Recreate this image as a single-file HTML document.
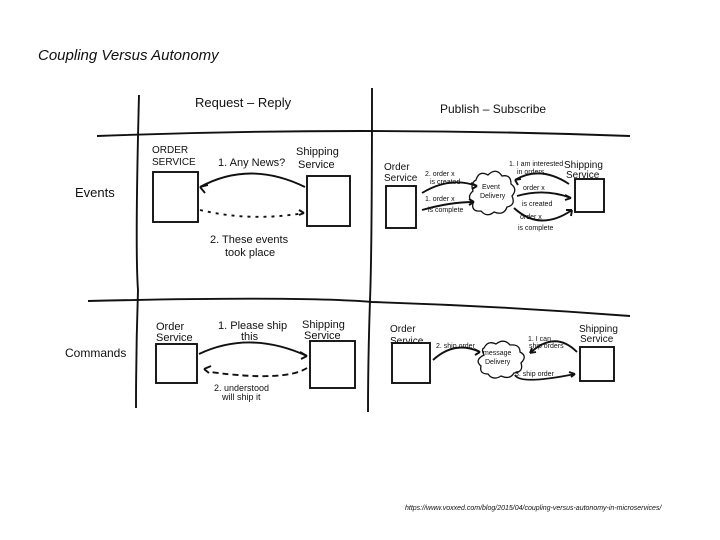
<!DOCTYPE html>
<html><head><meta charset="utf-8"><style>
html,body{margin:0;padding:0;background:#fff}
svg{display:block}
.h{font-family:"Liberation Sans",sans-serif;fill:#111}
</style></head><body>
<svg width="720" height="540" viewBox="0 0 720 540" xmlns="http://www.w3.org/2000/svg">
<text x="38" y="60" font-family="Liberation Sans,sans-serif" font-style="italic" font-size="15" fill="#111">Coupling Versus Autonomy</text>
<g stroke="#111" stroke-width="1.9" fill="none">
<path d="M97 136 Q360 126 630 136"/>
<path d="M88 301 Q300 296 372 302 Q500 306 630 316"/>
<path d="M139 95 Q135 250 138 290 Q136 350 136 408"/>
<path d="M372 88 Q372 250 370 300 Q368 360 368 412"/>
<rect x="153" y="172" width="45" height="50"/>
<rect x="307" y="176" width="43" height="50"/>
<path d="M305 187 Q250 160 200 187"/><path d="M200 187 l8 -2 M200 187 l5 6"/>
<path d="M200 210 Q250 222 304 213" stroke-dasharray="3 5"/><path d="M304 213 l-5 -3 M304 213 l-5 2"/>
<rect x="156" y="344" width="41" height="39"/>
<rect x="310" y="341" width="45" height="47"/>
<path d="M199 354 Q250 330 307 356"/><path d="M307 356 l-7 -4 M307 356 l-6 3"/>
<path d="M307 368 Q285 382 210 372" stroke-dasharray="6 4"/><path d="M204 369 l7 -3 M204 369 l5 4"/>
<rect x="386" y="186" width="30" height="42"/>
<rect x="575" y="179" width="29" height="33"/>
<path d="M422 193 Q450 176 477 186"/><path d="M477 186 l-6 -3 M477 186 l-5 3"/>
<path d="M422 210 Q450 202 474 202"/><path d="M474 202 l-5 -3 M474 202 l-5 3"/>
<path d="M569 184 Q540 165 515 180"/><path d="M515 180 l6 -1 M515 180 l3 5"/>
<path d="M517 196 Q545 188 571 198"/><path d="M571 198 l-6 -3 M571 198 l-6 2"/>
<path d="M514 208 Q540 232 572 210"/><path d="M572 210 l-6 0 M572 210 l-1 6"/>
<path d="M476 180 q3 -10 12 -5 q8 -8 14 1 q9 -2 9 8 q7 5 1 12 q4 9 -5 11 q-3 9 -13 5 q-7 6 -13 -1 q-10 1 -8 -8 q-7 -6 0 -12 q-3 -8 3 -11z" stroke-width="1.3"/>
<rect x="392" y="343" width="38" height="40"/>
<rect x="580" y="347" width="34" height="34"/>
<path d="M433 360 Q455 340 480 352"/><path d="M480 352 l-6 -3 M480 352 l-5 3"/>
<path d="M577 352 Q555 330 530 353"/><path d="M530 353 l6 -1 M530 353 l2 -5"/>
<path d="M515 375 Q520 385 575 374"/><path d="M575 374 l-6 -2 M575 374 l-4 3"/>
<path d="M484 348 q4 -8 12 -4 q8 -6 14 1 q10 -1 10 7 q8 4 1 11 q3 9 -7 10 q-4 7 -13 3 q-8 5 -13 -2 q-9 0 -7 -8 q-7 -6 3 -11 q-3 -6 0 -7z" stroke-width="1.3"/>
</g>
<g class="h" font-size="11">
<text x="195" y="107" font-size="13">Request – Reply</text>
<text x="440" y="113" font-size="12">Publish – Subscribe</text>
<text x="75" y="197" font-size="13">Events</text>
<text x="65" y="357" font-size="12">Commands</text>
<text x="152" y="153" font-size="10">ORDER</text>
<text x="152" y="165" font-size="10">SERVICE</text>
<text x="296" y="155">Shipping</text>
<text x="298" y="168">Service</text>
<text x="218" y="166">1. Any News?</text>
<text x="210" y="243">2. These events</text>
<text x="225" y="256">took place</text>
<text x="156" y="330">Order</text>
<text x="156" y="341">Service</text>
<text x="218" y="329">1. Please ship</text>
<text x="241" y="340">this</text>
<text x="302" y="328">Shipping</text>
<text x="304" y="339">Service</text>
<text x="214" y="391" font-size="9">2. understood</text>
<text x="222" y="400" font-size="9">will ship it</text>
<g font-size="10">
<text x="384" y="170">Order</text><text x="384" y="181">Service</text>
<text x="564" y="168">Shipping</text><text x="566" y="178">Service</text>
<text x="390" y="332">Order</text><text x="390" y="344">Service</text>
<text x="579" y="332">Shipping</text><text x="580" y="342">Service</text>
</g>
<g font-size="7">
<text x="425" y="176">2. order x</text><text x="430" y="184">is created</text>
<text x="425" y="201">1. order x</text><text x="428" y="212">is complete</text>
<text x="509" y="166">1. I am interested</text><text x="517" y="174">in orders</text>
<text x="523" y="190">order x</text><text x="522" y="206">is created</text>
<text x="520" y="219">order x</text><text x="518" y="230">is complete</text>
<text x="482" y="189">Event</text><text x="480" y="198">Delivery</text>
<text x="436" y="348">2. ship order</text>
<text x="528" y="341">1. I can</text><text x="529" y="348">ship orders</text>
<text x="515" y="376">3. ship order</text>
<text x="483" y="355">message</text><text x="485" y="364">Delivery</text>
</g>
<text x="405" y="510" font-size="7" font-style="italic">https://www.voxxed.com/blog/2015/04/coupling-versus-autonomy-in-microservices/</text>
</g>
</svg>
</body></html>
